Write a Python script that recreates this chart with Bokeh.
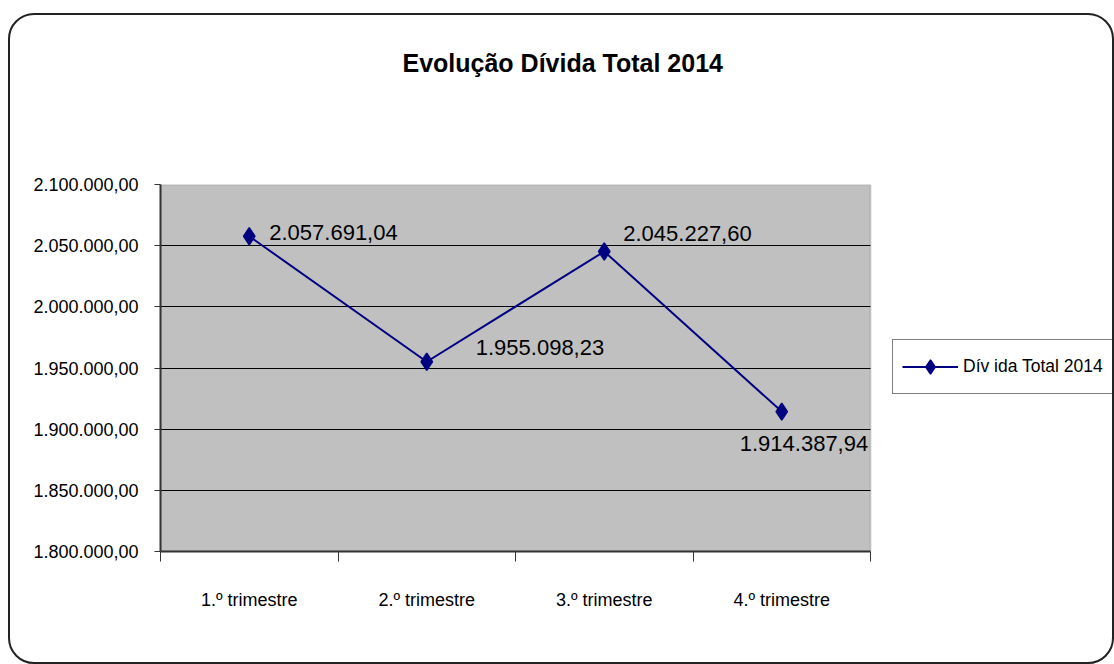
from bokeh.plotting import figure
from bokeh.models import (Range1d, FixedTicker, ColumnDataSource, LabelSet, LinearAxis,
                          Legend, LegendItem, InlineStyleSheet, BoxAnnotation)
from bokeh.core.properties import value
from bokeh.embed import file_html
from bokeh.resources import INLINE

# --- data -------------------------------------------------------------
title_text = "Evolução Dívida Total 2014"
series_name = "Dív ida Total 2014"
categories = ["1.º trimestre", "2.º trimestre", "3.º trimestre", "4.º trimestre"]
divida_total = [2057691.04, 1955098.23, 2045227.60, 1914387.94]
y_ticks = [1800000, 1850000, 1900000, 1950000, 2000000, 2050000, 2100000]


def fmt_pt(v):
    """Portuguese number format: 2.057.691,04"""
    s = f"{v:,.2f}"
    return s.replace(",", "#").replace(".", ",").replace("#", ".")


# --- layout constants (pixels) ---------------------------------------
W, H = 1114, 664
FL, FR, FT, FB = 160, 870, 184, 551          # grey plot-area edges
Y0, Y1 = y_ticks[0], y_ticks[-1]
NCAT = len(categories)
FONT_NAME = "Liberation Sans"

# the frame runs to the right edge of the canvas so the legend can sit in it;
# the categories occupy [0, NCAT] of the x range
X_MAX = NCAT * (W - FL) / (FR - FL)

# rounded outer border of the chart area, drawn by the page's CSS
frame_css = InlineStyleSheet(css="""
:host { position: relative; }
:host::after {
  content: "";
  position: absolute;
  left: 8px; top: 13px;
  width: 1106px; height: 651px;
  box-sizing: border-box;
  border: 2px solid #222222;
  border-radius: 26px;
  pointer-events: none;
}
""")

p = figure(width=W, height=H,
           x_range=Range1d(0, X_MAX), y_range=Range1d(Y0, Y1),
           output_backend="svg", toolbar_location=None,
           min_border_left=FL, min_border_right=0,
           min_border_top=FT, min_border_bottom=H - FB,
           stylesheets=[frame_css])

p.background_fill_color = "white"
p.border_fill_color = "white"
p.outline_line_color = None

# grey plot area with its grey border
p.add_layout(BoxAnnotation(left=0, right=NCAT, bottom=Y0, top=Y1,
                           fill_color="#C0C0C0", fill_alpha=1,
                           line_color="#808080", line_width=2, level="image"))

# y axis
yax = p.left[0]
yax.ticker = FixedTicker(ticks=y_ticks)
yax.major_label_overrides = {t: fmt_pt(t) for t in y_ticks}
yax.major_label_text_font = FONT_NAME
yax.major_label_text_font_size = "18px"
yax.major_label_text_color = "black"
yax.major_label_standoff = 16
yax.major_tick_out = 6
yax.major_tick_in = 0
yax.minor_tick_line_color = None
yax.axis_line_color = "#333333"
yax.axis_line_width = 2
yax.major_tick_line_color = "#333333"
yax.major_tick_line_width = 1

# x axis: labels centred on categories, tick marks on category boundaries
centers = [i + 0.5 for i in range(NCAT)]
xax = p.below[0]
xax.bounds = (0, NCAT)
xax.ticker = FixedTicker(ticks=centers, minor_ticks=list(range(NCAT + 1)))
xax.major_label_overrides = {c: lab for c, lab in zip(centers, categories)}
xax.major_label_text_font = FONT_NAME
xax.major_label_text_font_size = "18px"
xax.major_label_text_color = "black"
xax.major_label_standoff = 28
xax.major_tick_out = 0
xax.major_tick_in = 0
xax.minor_tick_out = 10
xax.minor_tick_in = 0
xax.minor_tick_line_color = "#333333"
xax.minor_tick_line_width = 1
xax.axis_line_color = "#333333"
xax.axis_line_width = 2

# title, lifted by a blank spacer axis (one white tick beside the legend column)
spacer_tick = NCAT + 0.5
spacer = LinearAxis(ticker=FixedTicker(ticks=[spacer_tick], minor_ticks=[]),
                    major_tick_out=106, major_tick_in=0,
                    major_tick_line_color="white", minor_tick_line_color=None,
                    axis_line_color=None,
                    major_label_overrides={spacer_tick: ""},
                    major_label_standoff=0, major_label_text_font_size="1px",
                    major_label_text_color="white")
p.add_layout(spacer, "above")
p.title.text = title_text
p.title.align = "left"
p.title.offset = 402 - FL
p.title.vertical_align = "top"
p.title.standoff = 0
p.title.text_font = FONT_NAME
p.title.text_font_size = "25px"
p.title.text_font_style = "bold"
p.title.text_color = "black"

# horizontal gridlines across the plot area only
p.xgrid.visible = False
ygrid = p.ygrid[0]
if "cross_bounds" in ygrid.properties():
    ygrid.ticker = FixedTicker(ticks=y_ticks[1:-1])
    ygrid.cross_bounds = (0, NCAT)
    ygrid.grid_line_color = "black"
    ygrid.grid_line_width = 1
else:
    ygrid.visible = False
    inner = y_ticks[1:-1]
    p.segment(x0=[0] * len(inner), x1=[NCAT] * len(inner), y0=inner, y1=inner,
              line_color="black", line_width=1, level="underlay")

# series
src = ColumnDataSource(dict(
    x=centers,
    y=divida_total,
    label=[fmt_pt(v) for v in divida_total],
    dx=[20, 49, 19, -42],
    dy=[4, 14, 18, -32],
))
line_r = p.line("x", "y", source=src, line_color="#000080", line_width=2)
mark_r = p.scatter("x", "y", source=src, marker="diamond", size=17,
                   fill_color="#000080", line_color="#000080", line_width=1.5)

labels = LabelSet(x="x", y="y", text="label", source=src,
                  x_offset="dx", y_offset="dy",
                  text_font=value(FONT_NAME), text_font_size="22px", text_color="black",
                  text_align="left", text_baseline="middle")
p.add_layout(labels)

# legend to the right of the plot area
legend = Legend(items=[LegendItem(label=series_name, renderers=[line_r, mark_r])],
                location=(892 - FL, FB - 394),
                border_line_color="black", border_line_width=1,
                background_fill_color="white", background_fill_alpha=1,
                padding=9, margin=0, spacing=0,
                glyph_width=56, glyph_height=35, label_standoff=5, label_height=35,
                label_text_font=FONT_NAME, label_text_font_size="17.5px",
                label_text_color="black")
p.add_layout(legend, "center")

open("out.html", "w").write(file_html(p, INLINE))
